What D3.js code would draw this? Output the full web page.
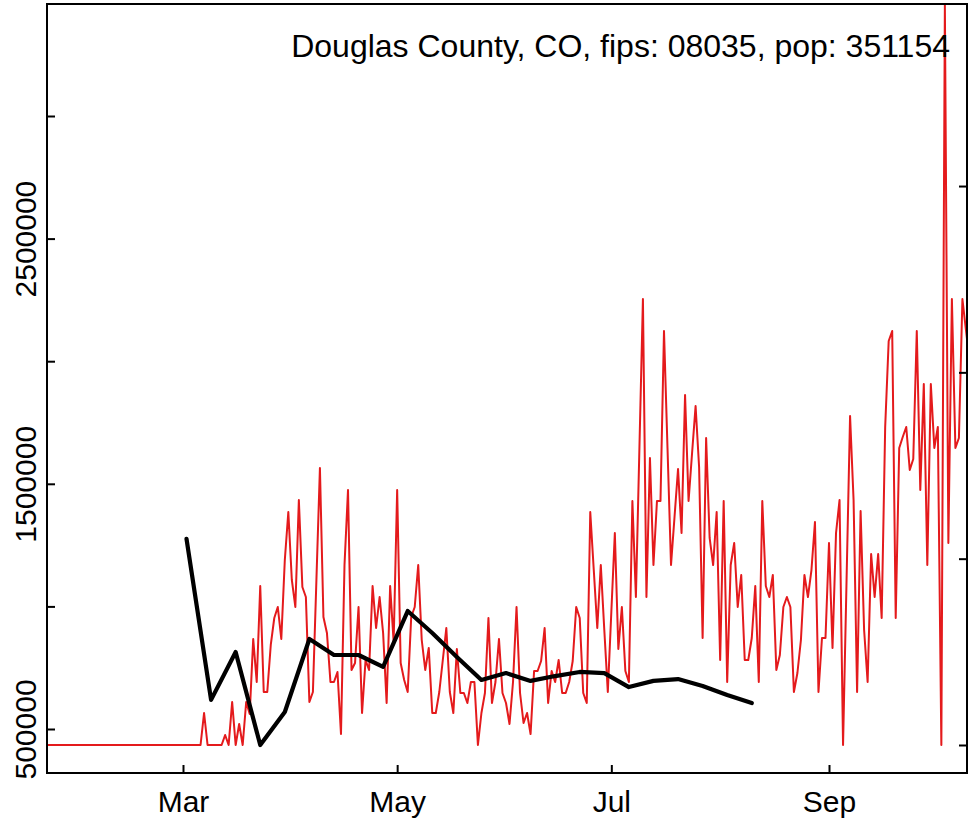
<!DOCTYPE html>
<html>
<head>
<meta charset="utf-8">
<script src="https://cdn.jsdelivr.net/npm/d3@7"></script>
<style>
  html, body { margin: 0; padding: 0; background: #fff; }
  svg { display: block; }
  text { font-family: "Liberation Sans", Arial, Helvetica, sans-serif; }
</style>
</head>
<body>
<svg id="chart" width="974" height="822"></svg>
<script>
// ---------------- DATA ----------------
const titleText = "Douglas County, CO, fips: 08035, pop: 351154";

// daily red series, first value = 2020-01-20
const redStart = "2020-01-20";
const redValues = [
  // Jan 20 - Feb 29
  434700,434700,434700,434700,434700,434700,434700,434700,434700,434700,434700,434700,
  434700,434700,434700,434700,434700,434700,434700,434700,434700,434700,434700,434700,
  434700,434700,434700,434700,434700,434700,434700,434700,434700,434700,434700,434700,
  434700,434700,434700,434700,434700,
  // Mar 1 -
  434700,434700,434700,434700,434700,434700,565300,434700,434700,434700,
  434700,434700,475500,434700,610100,434700,520400,434700,610100,561200,
  867000,691700,1083200,650900,650900,842600,952700,997600,867000,1189200,
  1385000,1107700,997600,1433900,1079100,1038300,610100,650900,1107700,1564400,
  956800,891500,691700,691700,732500,479600,1168800,1474700,740600,769200,
  997600,565300,781400,740600,1083200,911900,1038300,891500,606000,1083200,
  854800,1474700,769200,699800,650900,956800,997600,1168800,863000,740600,
  830300,565300,565300,650900,781400,911900,650900,565300,826300,646800,
  646800,606000,691700,691700,434700,565300,646800,952700,606000,691700,
  867000,646800,606000,520400,691700,997600,646800,524500,565300,479600,
  736500,736500,777300,911900,606000,736500,691700,781400,646800,646800,
  691700,777300,997600,952700,646800,606000,1385000,1148400,911900,1168800,
  903800,650900,977200,1299300,826300,997600,736500,691700,1429900,1038300,
  1646000,2253700,1038300,1605200,1168800,1429900,1429900,2123200,1646000,1168800,
  1364600,1560400,1299300,1862100,1429900,1625600,1817300,1568500,871100,1686800,
  1279000,1168800,1385000,781400,1429900,691700,1168800,1258600,997600,1128100,
  781400,781400,871100,1083200,691700,1429900,1083200,1038300,1128100,740600,
  801800,997600,1038300,997600,650900,728400,863000,1128100,1038300,1148400,
  1344200,650900,871100,871100,1258600,830300,1299300,1433900,434700,1107700,
  1776500,1433900,650900,1389100,903800,691700,1213700,1038300,1213700,952700,
  1731600,2082400,2123200,952700,1646000,1690900,1731600,1556300,1601100,2123200,
  1474700,1907000,1168800,1907000,1646000,1731600,434700,3452700,1258600,2253700,
  1646000,1686800,2253700,2127200,2004900
];

// weekly black series (right axis, unlabeled units)
const blackDates = [
  "2020-03-02","2020-03-09","2020-03-16","2020-03-23","2020-03-30","2020-04-06",
  "2020-04-13","2020-04-20","2020-04-27","2020-05-04","2020-05-11","2020-05-18",
  "2020-05-25","2020-06-01","2020-06-08","2020-06-15","2020-06-22","2020-06-29",
  "2020-07-06","2020-07-13","2020-07-20","2020-07-27","2020-08-03","2020-08-10"
];
const blackValues = [
  110.6, 24.2, 49.9, 0.0, 17.7, 56.9,
  48.3, 48.3, 41.9, 71.9, 60.1, 47.2,
  34.9, 38.6, 34.4, 37.0, 39.2, 38.6,
  31.1, 34.4, 35.4, 31.7, 26.8, 22.5
];

const leftTicks = [500000, 1000000, 1500000, 2000000, 2500000, 3000000];
const leftTickLabels = ["500000", "", "1500000", "", "2500000", ""];
const rightTicks = [0, 100, 200, 300];
const xTickDates = ["2020-03-01", "2020-05-01", "2020-07-01", "2020-09-01"];
const xTickLabels = ["Mar", "May", "Jul", "Sep"];

// ---------------- LAYOUT ----------------
const L = 47, R = 967, T = 4, B = 773;
const FONT = 30;
const TITLE_FONT = 32;

const svg = d3.select("#chart");
const parse = d3.utcParse("%Y-%m-%d");

const x = d3.scaleUtc()
  .domain([new Date(Date.UTC(2020, 0, 22, 6, 21)), new Date(Date.UTC(2020, 9, 10, 7, 19))])
  .range([L, R]);
const yL = d3.scaleLinear().domain([320555, 3456770]).range([B, T]);
const yR = d3.scaleLinear().domain([-15.03, 397.7]).range([B, T]);

const day0 = parse(redStart);
const redData = redValues.map((v, i) => ({ date: d3.utcDay.offset(day0, i), v }));
const blackData = blackDates.map((d, i) => ({ date: parse(d), v: blackValues[i] }));

svg.append("defs").append("clipPath").attr("id", "plotclip")
  .append("rect").attr("x", L).attr("y", T).attr("width", R - L).attr("height", B - T);

const plot = svg.append("g").attr("clip-path", "url(#plotclip)");

plot.append("path")
  .datum(redData)
  .attr("fill", "none")
  .attr("stroke", "#e41a1c")
  .attr("stroke-width", 2)
  .attr("stroke-linejoin", "round")
  .attr("d", d3.line().x(d => x(d.date)).y(d => yL(d.v)));

plot.append("path")
  .datum(blackData)
  .attr("fill", "none")
  .attr("stroke", "#000")
  .attr("stroke-width", 4.2)
  .attr("stroke-linejoin", "round")
  .attr("stroke-linecap", "round")
  .attr("d", d3.line().x(d => x(d.date)).y(d => yR(d.v)));

// axes (inward ticks)
const gLeft = svg.append("g").attr("transform", `translate(${L},0)`)
  .call(d3.axisLeft(yL).tickValues(leftTicks).tickSize(-8)
    .tickFormat((d, i) => leftTickLabels[i]));
gLeft.select(".domain").remove();
gLeft.selectAll(".tick line").attr("stroke", "#000").attr("stroke-width", 2);
gLeft.selectAll(".tick text")
  .attr("x", null).attr("dy", null)
  .attr("transform", "translate(-11,0) rotate(-90)")
  .attr("text-anchor", "middle")
  .attr("fill", "#000")
  .style("font-size", FONT + "px")
  .style("font-family", "'Liberation Sans', Arial, sans-serif");

const gRight = svg.append("g").attr("transform", `translate(${R},0)`)
  .call(d3.axisRight(yR).tickValues(rightTicks).tickSize(-8).tickFormat(() => ""));
gRight.select(".domain").remove();
gRight.selectAll(".tick line").attr("stroke", "#000").attr("stroke-width", 2);

const gBottom = svg.append("g").attr("transform", `translate(0,${B})`)
  .call(d3.axisBottom(x).tickValues(xTickDates.map(parse)).tickSize(-8)
    .tickFormat((d, i) => xTickLabels[i]));
gBottom.select(".domain").remove();
gBottom.selectAll(".tick line").attr("stroke", "#000").attr("stroke-width", 2);
gBottom.selectAll(".tick text")
  .attr("y", 39).attr("dy", null)
  .attr("fill", "#000")
  .style("font-size", FONT + "px")
  .style("font-family", "'Liberation Sans', Arial, sans-serif");

// box
svg.append("rect")
  .attr("x", L).attr("y", T).attr("width", R - L).attr("height", B - T)
  .attr("fill", "none").attr("stroke", "#000").attr("stroke-width", 2);

// title
svg.append("text")
  .attr("x", 950).attr("y", 57)
  .attr("text-anchor", "end")
  .attr("fill", "#000")
  .style("font-size", TITLE_FONT + "px")
  .text(titleText);
</script>
</body>
</html>
